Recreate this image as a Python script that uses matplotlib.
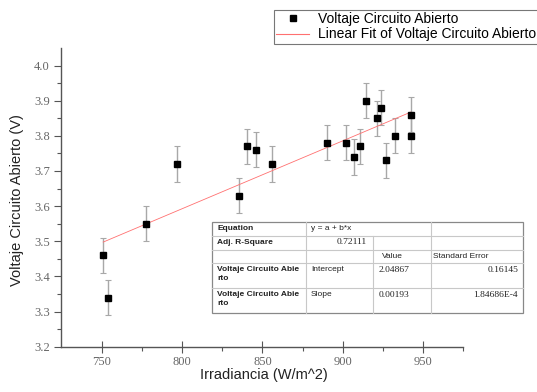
import matplotlib
matplotlib.use("Agg")
import matplotlib.pyplot as plt
from matplotlib.lines import Line2D
import numpy as np

irradiancia = [750.8, 754.0, 777.5, 796.7, 835.2, 840.6, 846.0, 856.0, 890.0, 901.9,
               906.9, 911.0, 914.4, 921.3, 923.8, 926.9, 932.9, 942.5, 942.5]
voltaje = [3.46, 3.34, 3.55, 3.72, 3.63, 3.77, 3.76, 3.72, 3.78, 3.78,
           3.74, 3.77, 3.90, 3.85, 3.88, 3.73, 3.80, 3.86, 3.80]
error = [0.05] * len(voltaje)

# fit results shown in the table
intercept, intercept_err = 2.04867, 0.16145
slope, slope_err = 0.00193, 1.84686e-4
adj_r2 = 0.72111

W, H = 537, 392
plt.rcParams["font.family"] = ["Liberation Sans", "DejaVu Sans"]

fig = plt.figure(figsize=(W / 100, H / 100), dpi=100)
ax = fig.add_axes([61 / W, 1 - 346.7 / H, (463 - 61) / W, (346.7 - 48) / H])

ax.errorbar(irradiancia, voltaje, yerr=error, fmt="none", ecolor="#a8a8a8",
            elinewidth=1.0, capsize=2.5, capthick=0.8, zorder=2)
pts, = ax.plot(irradiancia, voltaje, "s", color="black", markersize=5,
               label="Voltaje Circuito Abierto", zorder=3)
xf = np.array([min(irradiancia), max(irradiancia)])
fit, = ax.plot(xf, intercept + slope * xf, color="#ff7070", lw=0.6,
               label="Linear Fit of Voltaje Circuito Abierto", zorder=2.5)

ax.set_xlim(724.5, 975)
ax.set_ylim(3.2, 4.05)
ax.set_xticks([750, 800, 850, 900, 950])
ax.set_xticks([775, 825, 875, 925, 975], minor=True)
ax.set_yticks(np.arange(3.2, 4.01, 0.1))
ax.set_yticks(np.arange(3.25, 4.0, 0.1), minor=True)
ax.set_yticklabels([f"{v:.1f}" for v in np.arange(3.2, 4.01, 0.1)])

for s in ("top", "right"):
    ax.spines[s].set_visible(False)
for s in ("left", "bottom"):
    ax.spines[s].set_color("#555555")
    ax.spines[s].set_linewidth(1.0)

ax.tick_params(which="major", direction="out", length=5, width=0.8, color="#555555",
               labelsize=9, labelcolor="#666666", pad=3)
ax.tick_params(which="minor", direction="out", length=3, width=0.8, color="#555555")
ax.tick_params(axis="x", which="major", direction="inout", length=8)
for lab in ax.get_xticklabels() + ax.get_yticklabels():
    lab.set_family("Liberation Serif")

fig.text(17 / W, 1 - 200 / H, "Voltaje Circuito Abierto (V)", rotation=90,
         ha="center", va="center", fontsize=10.5, color="#222222")
fig.text(264 / W, 1 - 375 / H, "Irradiancia (W/m^2)", ha="center", va="center",
         fontsize=10.5, color="#222222")

leg = fig.legend(handles=[pts, Line2D([0], [0], color="#ff7070", lw=0.8)],
                 labels=[pts.get_label(), fit.get_label()],
                 loc="upper left", bbox_to_anchor=(274 / W, 1 - 10 / H),
                 borderaxespad=0, fancybox=False, framealpha=1, edgecolor="#777777",
                 fontsize=10, handlelength=2.4, handletextpad=0.6,
                 borderpad=0.15, labelspacing=0.1, markerscale=1.0)
leg.get_frame().set_linewidth(0.8)


# fit table, drawn in pixel coordinates
def fx(px):
    return px / W


def fy(py):
    return 1 - py / H


def hline(x0, x1, y, c="#c8c8c8"):
    fig.add_artist(Line2D([fx(x0), fx(x1)], [fy(y), fy(y)], color=c, lw=0.8, zorder=5))


def vline(x, y0, y1, c="#c8c8c8"):
    fig.add_artist(Line2D([fx(x), fx(x)], [fy(y0), fy(y1)], color=c, lw=0.8, zorder=5))


tl, tr, tt, tb = 212, 523, 222, 313
rows = [222, 236, 249.5, 263, 288, 313]
bg = plt.Rectangle((fx(tl), fy(tb)), fx(tr) - fx(tl), fy(tt) - fy(tb),
                   transform=fig.transFigure, facecolor="white", edgecolor="#888888",
                   lw=0.9, zorder=4)
fig.add_artist(bg)
for r in rows[1:-1]:
    hline(tl, tr, r)
vline(306, tt, tb)
vline(431, tt, tb)
vline(373, rows[1], tb)


def cell(x, y, s, ha="left", serif=False, bold=False):
    fig.text(fx(x), fy(y), s, ha=ha, va="center",
             fontsize=6.8 if serif else 6.0, color="#222222",
             family="Liberation Serif" if serif else "Liberation Sans",
             weight="semibold" if bold else "normal", zorder=6)


cell(217, 228, "Equation", bold=True)
cell(311, 228, "y = a + b*x")
cell(217, 242.5, "Adj. R-Square", bold=True)
cell(367, 242.5, f"{adj_r2:.5f}", ha="right", serif=True)
cell(382, 256.5, "Value")
cell(433, 256.5, "Standard Error")
cell(217, 269.5, "Voltaje Circuito Abie", bold=True)
cell(217, 278, "rto", bold=True)
cell(311, 269.5, "Intercept")
cell(409, 269.5, f"{intercept:.5f}", ha="right", serif=True)
cell(518, 269.5, f"{intercept_err:.5f}", ha="right", serif=True)
cell(217, 295, "Voltaje Circuito Abie", bold=True)
cell(217, 303.5, "rto", bold=True)
cell(311, 295, "Slope")
cell(409, 295, f"{slope:.5f}", ha="right", serif=True)
cell(518, 295, "1.84686E-4", ha="right", serif=True)

fig.savefig("out.png", dpi=100)
